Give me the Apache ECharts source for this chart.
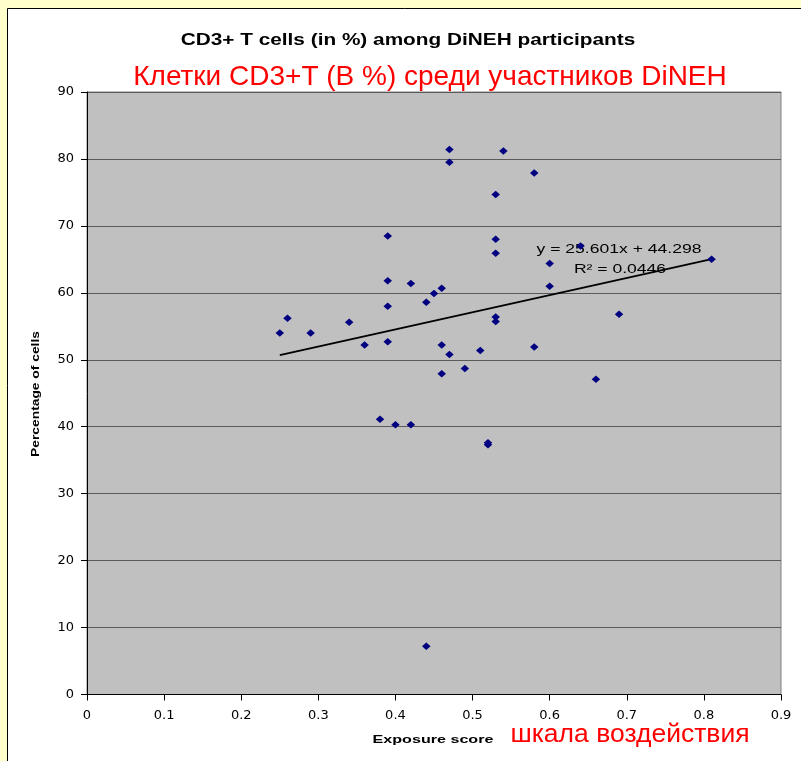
<!DOCTYPE html>
<html>
<head>
<meta charset="utf-8">
<script src="https://cdn.jsdelivr.net/npm/echarts@6/dist/echarts.min.js"></script>
<style>
  html, body { margin: 0; padding: 0; background: #ffffcc; }
  #chart { width: 801px; height: 761px; }
</style>
</head>
<body>
<div id="chart"></div>
<script>
// exposure score / percentage of CD3+ cells
const exposure = [
  0.25, 0.26, 0.29, 0.34, 0.36, 0.38, 0.39, 0.39, 0.39, 0.39,
  0.40, 0.42, 0.42, 0.44, 0.44, 0.45, 0.46, 0.46, 0.46, 0.47,
  0.47, 0.47, 0.49, 0.51, 0.52, 0.52, 0.53, 0.53, 0.53, 0.53,
  0.53, 0.54, 0.58, 0.58, 0.60, 0.60, 0.64, 0.66, 0.69, 0.81
];
const cd3Pct = [
  54.0, 56.2, 54.0, 55.6, 52.2, 41.1, 68.5, 61.8, 58.0, 52.7,
  40.3, 61.4, 40.3, 58.6, 7.2, 59.9, 60.7, 52.2, 47.9, 50.8,
  81.4, 79.5, 48.7, 51.4, 37.3, 37.6, 74.7, 68.0, 65.9, 56.4,
  55.7, 81.2, 77.9, 51.9, 64.4, 61.0, 67.0, 47.1, 56.8, 65.0
];
const slope = 25.601;
const intercept = 44.298;
const rSquared = 0.0446;

const xTicks = { min: 0, max: 0.9, interval: 0.1 };
const yTicks = { min: 0, max: 90, interval: 10 };

const points = exposure.map((x, i) => [x, cd3Pct[i]]);
const xLo = Math.min(...exposure);
const xHi = Math.max(...exposure);
const trend = [[xLo, slope * xLo + intercept], [xHi, slope * xHi + intercept]];

const SANS = 'Liberation Sans, Arial, sans-serif';

// text helper, scaleX mimics the stretched look of the original picture
const label = (text, x, y, size, opts = {}) => ({
  type: 'text', x, y,
  scaleX: opts.scaleX || 1,
  rotation: opts.rotation || 0,
  style: {
    text,
    fontFamily: SANS,
    fontSize: size,
    fontWeight: opts.bold ? 'bold' : 'normal',
    fill: opts.color || '#000',
    textAlign: 'center',
    textVerticalAlign: 'middle'
  }
});

const chart = echarts.init(document.getElementById('chart'));

const option = {
  backgroundColor: '#ffffcc',
  animation: false,
  graphic: [
    {
      type: 'rect', z: -10, silent: true,
      shape: { x: 7.5, y: 8.5, width: 800, height: 760 },
      style: { fill: '#ffffff', stroke: '#000000', lineWidth: 1 }
    },
    label('CD3+ T cells (in %) among DiNEH participants', 408, 40, 16.5, { bold: true, scaleX: 1.26 }),
    label('Клетки CD3+T (В %) среди участников DiNEH', 430, 77, 28, { color: '#ff0000' }),
    label('Percentage of cells', 36, 394, 11.5, { bold: true, scaleX: 1.2, rotation: Math.PI / 2 }),
    label('Exposure score', 433, 740, 11.5, { bold: true, scaleX: 1.4 }),
    label('шкала воздействия', 630, 735, 26.5, { color: '#ff0000' }),
    label('y = ' + slope.toFixed(3) + 'x + ' + intercept.toFixed(3), 619, 249, 13.5, { scaleX: 1.3 }),
    label('R² = ' + rSquared, 620, 269, 13.5, { scaleX: 1.3 })
  ],
  grid: {
    left: 87, right: 20, top: 92, bottom: 66.5,
    show: true,
    backgroundColor: '#c0c0c0',
    borderColor: '#808080',
    borderWidth: 1
  },
  xAxis: {
    type: 'value',
    min: xTicks.min, max: xTicks.max, interval: xTicks.interval,
    axisLine: { onZero: false, lineStyle: { color: '#000', width: 1 } },
    axisTick: { show: true, inside: false, length: 6, lineStyle: { color: '#000' } },
    axisLabel: {
      margin: 15,
      color: '#000',
      fontFamily: 'DejaVu Sans, sans-serif',
      fontSize: 13,
      formatter: v => String(Math.round(v * 10) / 10)
    },
    splitLine: { show: false }
  },
  yAxis: {
    type: 'value',
    min: yTicks.min, max: yTicks.max, interval: yTicks.interval,
    axisLine: { show: true, onZero: false, lineStyle: { color: '#000', width: 1 } },
    axisTick: { show: true, inside: false, length: 6, lineStyle: { color: '#000' } },
    axisLabel: {
      margin: 13,
      color: '#000',
      fontFamily: 'DejaVu Sans, sans-serif',
      fontSize: 13
    },
    splitLine: { show: true, lineStyle: { color: '#5a5a5a', width: 1 } }
  },
  series: [
    {
      name: 'CD3+',
      type: 'scatter',
      data: points,
      symbol: 'diamond',
      symbolSize: [8.5, 7.5],
      itemStyle: { color: '#000080', opacity: 1 },
      z: 3
    },
    {
      name: 'trend',
      type: 'line',
      data: trend,
      symbol: 'none',
      lineStyle: { color: '#000', width: 1.8 },
      z: 2
    }
  ]
};

chart.setOption(option);
</script>
</body>
</html>
